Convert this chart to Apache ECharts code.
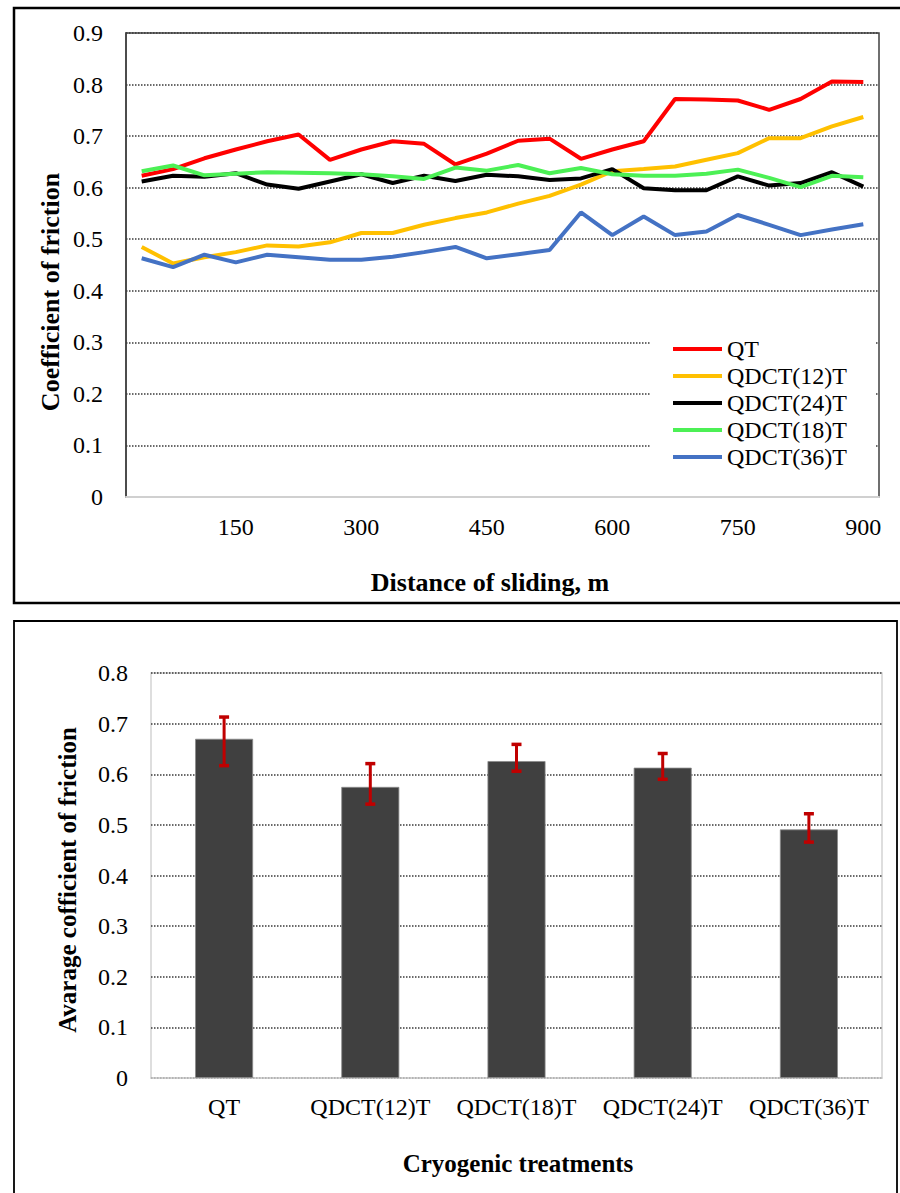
<!DOCTYPE html>
<html>
<head>
<meta charset="utf-8">
<script src="https://cdn.jsdelivr.net/npm/echarts@6/dist/echarts.min.js"></script>
<style>
html,body{margin:0;padding:0;background:#fff;}
#c{width:900px;height:1193px;}
</style>
</head>
<body>
<div id="c"></div>
<script>
// ---------- Data: top chart ----------
const distanceLabels = ['37.5','75','112.5','150','187.5','225','262.5','300','337.5','375','412.5','450',
  '487.5','525','562.5','600','637.5','675','712.5','750','787.5','825','862.5','900'];
const seriesNames = ['QT','QDCT(12)T','QDCT(24)T','QDCT(18)T','QDCT(36)T'];
const qt     = [0.623,0.636,0.657,0.674,0.690,0.703,0.654,0.674,0.690,0.685,0.645,0.666,0.691,0.695,0.656,0.674,0.690,0.772,0.771,0.769,0.751,0.772,0.806,0.805];
const qdct12 = [0.485,0.453,0.465,0.475,0.488,0.486,0.494,0.512,0.512,0.528,0.541,0.552,0.569,0.584,0.606,0.632,0.636,0.641,0.654,0.667,0.696,0.696,0.719,0.737];
const qdct24 = [0.612,0.623,0.621,0.628,0.606,0.598,0.612,0.626,0.609,0.623,0.613,0.625,0.622,0.615,0.618,0.636,0.599,0.595,0.595,0.622,0.604,0.609,0.630,0.602];
const qdct18 = [0.632,0.643,0.624,0.627,0.630,0.629,0.628,0.626,0.622,0.617,0.639,0.633,0.644,0.628,0.638,0.626,0.623,0.623,0.627,0.635,0.619,0.601,0.623,0.620];
const qdct36 = [0.463,0.446,0.470,0.455,0.470,0.465,0.460,0.460,0.466,0.475,0.485,0.463,0.471,0.479,0.552,0.508,0.544,0.508,0.515,0.547,0.528,0.508,0.519,0.529];
const lineColors = ['#ff0000','#ffc000','#000000','#4cf055','#4472c4'];

// ---------- Data: bottom chart ----------
const treatments = ['QT','QDCT(12)T','QDCT(18)T','QDCT(24)T','QDCT(36)T'];
const avgCof  = [0.670,0.575,0.626,0.613,0.491];
const errHigh = [0.713,0.621,0.659,0.641,0.522];
const errLow  = [0.617,0.541,0.606,0.590,0.466];

const FONT = 'Liberation Serif';
const chart = echarts.init(document.getElementById('c'), null, {renderer:'svg', width:900, height:1193});

const dotted = {color:'#3a3a3a', width:1.5, type:[1.5,1.5]};
const fmt = v => v === 0 ? '0' : v.toFixed(1);
const lineData = [qt, qdct12, qdct24, qdct18, qdct36];

const series = lineData.map((d,i)=>({
  name: seriesNames[i], type:'line', xAxisIndex:0, yAxisIndex:0,
  data:d, showSymbol:false, symbol:'none',
  lineStyle:{width:4, color:lineColors[i]}, itemStyle:{color:lineColors[i]},
  animation:false
}));

series.push({
  type:'bar', xAxisIndex:1, yAxisIndex:1, data:avgCof, barWidth:58,
  itemStyle:{color:'#404040', borderColor:'#8a8a8a', borderWidth:0.8}, animation:false
});
series.push({
  type:'custom', xAxisIndex:1, yAxisIndex:1, animation:false, z:5,
  data: treatments.map((t,i)=>[i, errLow[i], errHigh[i]]),
  renderItem:(params, api)=>{
    const x = api.value(0);
    const lo = api.coord([x, api.value(1)]);
    const hi = api.coord([x, api.value(2)]);
    const hw = 5;
    return {type:'group', children:[
      {type:'line', shape:{x1:lo[0],y1:lo[1],x2:hi[0],y2:hi[1]}, style:{stroke:'#c00000', lineWidth:3}},
      {type:'line', shape:{x1:hi[0]-hw,y1:hi[1],x2:hi[0]+hw,y2:hi[1]}, style:{stroke:'#c00000', lineWidth:3.5}},
      {type:'line', shape:{x1:lo[0]-hw,y1:lo[1],x2:lo[0]+hw,y2:lo[1]}, style:{stroke:'#c00000', lineWidth:3.5}}
    ]};
  }
});

function title(text, x, y, rot, size){
  return {type:'text', x:x, y:y, rotation:rot,
    style:{text:text, fontFamily:FONT, fontWeight:'bold', fontSize:size, fill:'#000',
           textAlign:'center', textVerticalAlign:'middle'}};
}

const option = {
  backgroundColor:'#fff',
  animation:false,
  textStyle:{fontFamily:FONT},
  grid:[
    {left:126, top:33, width:753, height:464, show:true, borderColor:'#404040', borderWidth:1.5, backgroundColor:'transparent'},
    {left:151, top:673, width:731, height:405, show:true, borderColor:'#d4d4d4', borderWidth:1.5, backgroundColor:'transparent'}
  ],
  xAxis:[
    {gridIndex:0, type:'category', data:distanceLabels, boundaryGap:true,
     axisLine:{lineStyle:{color:'#d0d0d0', width:2}}, axisTick:{show:false},
     axisLabel:{interval:(idx)=>((idx+1)%4===0), margin:18, color:'#000', fontSize:24, fontFamily:FONT},
     splitLine:{show:false}},
    {gridIndex:1, type:'category', data:treatments, boundaryGap:true,
     axisLine:{lineStyle:{color:'#d0d0d0', width:1.5}}, axisTick:{show:false},
     axisLabel:{interval:0, margin:17, color:'#000', fontSize:24, fontFamily:FONT},
     splitLine:{show:false}}
  ],
  yAxis:[
    {gridIndex:0, type:'value', min:0, max:0.9, interval:0.1,
     axisLine:{show:true, lineStyle:{color:'#404040', width:1.5}}, axisTick:{show:false},
     axisLabel:{formatter:fmt, margin:23, color:'#000', fontSize:24, fontFamily:FONT},
     splitLine:{show:true, lineStyle:dotted}},
    {gridIndex:1, type:'value', min:0, max:0.8, interval:0.1,
     axisLine:{show:false}, axisTick:{show:false},
     axisLabel:{formatter:fmt, margin:23, color:'#000', fontSize:24, fontFamily:FONT},
     splitLine:{show:true, lineStyle:dotted}}
  ],
  legend:{
    data:seriesNames, orient:'vertical', left:650, top:327,
    backgroundColor:'#fff', padding:[10,28,10,23],
    icon:'rect', itemWidth:49, itemHeight:4, itemGap:3,
    textStyle:{fontSize:24, lineHeight:24, color:'#000', fontFamily:FONT}
  },
  graphic:[
    {type:'rect', shape:{x:14, y:8, width:900, height:595}, style:{fill:'none', stroke:'#000', lineWidth:2.5}, z:-1, silent:true},
    {type:'rect', shape:{x:14, y:621, width:883, height:600}, style:{fill:'none', stroke:'#000', lineWidth:1.8}, z:-1, silent:true},
    title('Coefficient of friction', 50, 292, Math.PI/2, 26),
    title('Distance of sliding, m', 490, 582, 0, 26),
    title('Avarage cofficient of friction', 67, 880, Math.PI/2, 25),
    title('Cryogenic treatments', 518, 1163, 0, 25)
  ],
  series:series
};
chart.setOption(option);
</script>
</body>
</html>
